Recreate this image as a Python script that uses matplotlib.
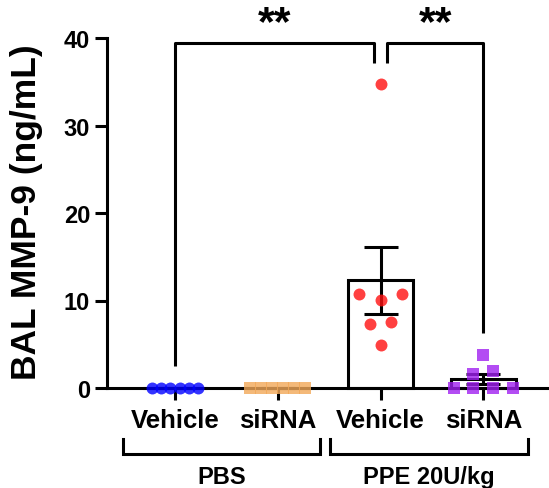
import numpy as np
import matplotlib
matplotlib.use("Agg")
import matplotlib.pyplot as plt

# ---------------- data ----------------
categories = ["Vehicle", "siRNA", "Vehicle", "siRNA"]
groups = ["PBS", "PPE 20U/kg"]
pbs_vehicle = [0.0, 0.0, 0.0, 0.0, 0.0, 0.0]
pbs_sirna = [0.0, 0.0, 0.0, 0.0, 0.0, 0.0]
ppe_vehicle = [34.7, 10.8, 10.1, 10.7, 7.3, 7.6, 4.95]
ppe_sirna = [3.8, 1.6, 2.0, 0.0, 0.0, 0.0, 0.0]
y_ticks = [0, 10, 20, 30, 40]
y_label = "BAL MMP-9 (ng/mL)"
sig_labels = ["**", "**"]

series = [pbs_vehicle, pbs_sirna, ppe_vehicle, ppe_sirna]

# ---------------- style ----------------
colors = ["#0000FF", "#F2A858", "#FF1010", "#A020F0"]
markers = ["o", "s", "o", "s"]
msizes = [8.6, 8.4, 8.6, 8.2]
gaps = [0.088, 0.107, 0.205, 0.19]   # horizontal spread of points (data units)
FONT = "Liberation Sans"
LW = 2.2

plt.rcParams["font.family"] = [FONT, "DejaVu Sans"]
plt.rcParams["font.weight"] = "bold"


def swarm_offsets(vals, gap, row_tol=1.4):
    vals = np.asarray(vals, float)
    order = np.argsort(vals, kind="stable")
    offs = np.zeros(len(vals))
    rows, cur = [], [order[0]]
    for i in order[1:]:
        if vals[i] - vals[cur[-1]] < row_tol:
            cur.append(i)
        else:
            rows.append(cur)
            cur = [i]
    rows.append(cur)
    for row in rows:
        n = len(row)
        if n % 2:
            slots = [0]
            for k in range(1, n):
                slots += [k, -k]
        else:
            slots = []
            for k in range(n):
                slots += [-(k + 0.5), k + 0.5]
        for k, idx in enumerate(row):
            offs[idx] = slots[k] * gap
    return offs


fig = plt.figure(figsize=(5.49, 4.89), dpi=100)
ax = fig.add_axes([107 / 549, 100 / 489, 442 / 549, 350 / 489])

x = np.arange(len(categories))
means = [np.mean(s) for s in series]
sems = [np.std(s, ddof=1) / np.sqrt(len(s)) for s in series]

ax.bar(x, means, width=0.63, facecolor="white", edgecolor="black",
       linewidth=LW, zorder=1, clip_on=False)
ax.errorbar(x, means, yerr=sems, fmt="none", ecolor="black",
            elinewidth=LW, capsize=11.9, capthick=LW, zorder=2, clip_on=False)

for i, s in enumerate(series):
    offs = swarm_offsets(s, gaps[i])
    ax.plot(x[i] + offs, s, linestyle="none", marker=markers[i],
            markersize=msizes[i], color=colors[i], markeredgewidth=0,
            alpha=0.8, zorder=3, clip_on=False)

ax.set_xlim(-0.662, 3.64)
ax.set_ylim(0, 40)
ax.set_yticks(y_ticks)
ax.set_yticklabels([str(t) for t in y_ticks], fontsize=17, fontweight="bold")
ax.set_xticks(x)
ax.set_xticklabels(categories, fontsize=18.5, fontweight="bold")
for sp in ["top", "right"]:
    ax.spines[sp].set_visible(False)
for sp in ["left", "bottom"]:
    ax.spines[sp].set_linewidth(LW)
ax.spines["left"].set_bounds(0, 40)
ax.tick_params(axis="both", direction="out", length=8.6, width=LW, color="black")
ax.tick_params(axis="y", pad=3.6)
ax.tick_params(axis="x", pad=6)

fig.text(36.5 / 549, 1 - 212 / 489, y_label, rotation=90, fontsize=25.5,
         fontweight="bold", ha="center", va="baseline", rotation_mode="anchor")

# significance brackets
leg = 0.065
top = 39.43
ax.plot([x[0], x[0], x[2] - leg, x[2] - leg], [2.5, top, top, 37.2],
        color="black", lw=LW, clip_on=False, solid_capstyle="butt")
ax.plot([x[2] + leg, x[2] + leg, x[3], x[3]], [37.2, top, top, 6.25],
        color="black", lw=LW, clip_on=False, solid_capstyle="butt")
ax.text((x[0] + x[2] - leg) / 2, 40.45, sig_labels[0], fontsize=31,
        fontweight="bold", ha="center", va="baseline")
ax.text((x[2] + leg + x[3]) / 2, 40.45, sig_labels[1], fontsize=31,
        fontweight="bold", ha="center", va="baseline")

# group brackets below the axis
gb = [(-0.506, 1.412), (1.509, 3.437)]
for (a, b), name in zip(gb, groups):
    ax.plot([a, a, b, b], [-5.83, -7.54, -7.54, -5.83], color="black",
            lw=LW, clip_on=False, solid_joinstyle="miter")
    ax.text((a + b) / 2, -10.9, name, fontsize=17, fontweight="bold",
            ha="center", va="baseline")

fig.savefig("out.png", dpi=100)
